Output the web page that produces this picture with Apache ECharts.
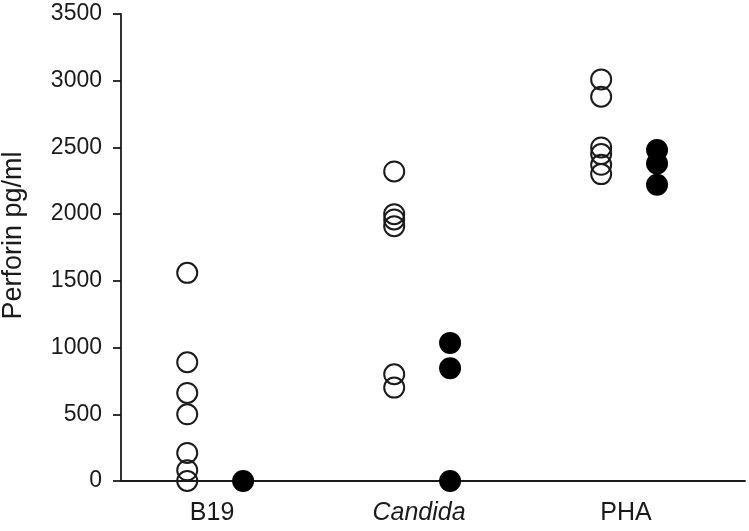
<!DOCTYPE html>
<html>
<head>
<meta charset="utf-8">
<script src="https://cdn.jsdelivr.net/npm/echarts@6/dist/echarts.min.js"></script>
<style>
  html, body { margin: 0; padding: 0; background: #fff; }
  #container { width: 749px; height: 531px; }
</style>
</head>
<body>
<div id="container"></div>
<script>
// groups on the x axis
var categories = ['B19', 'Candida', 'PHA'];
// open circles (left of each group)
var openB19 = [1560, 890, 660, 500, 210, 80, 0];
var openCandida = [2320, 2000, 1960, 1910, 800, 700];
var openPHA = [3010, 2880, 2500, 2450, 2370, 2300];
// filled circles (right of each group)
var filledB19 = [0];
var filledCandida = [1035, 845, 0];
var filledPHA = [2480, 2380, 2220];
var yTicks = [0, 500, 1000, 1500, 2000, 2500, 3000, 3500];

var openShift = -0.12;
var filledShift = 0.15;
var font = 'Liberation Sans, Arial, sans-serif';
var ink = '#1a1a1a';

function toPoints(groups, shift) {
  var pts = [];
  for (var i = 0; i < groups.length; i++) {
    for (var j = 0; j < groups[i].length; j++) {
      pts.push([i + 1 + shift, groups[i][j]]);
    }
  }
  return pts;
}

var dom = document.getElementById('container');
var myChart = echarts.init(dom);
var option = {
  animation: false,
  backgroundColor: '#fff',
  grid: { left: 121, right: 4, top: 14, bottom: 50, outerBoundsMode: 'none', containLabel: false },
  xAxis: {
    type: 'value',
    min: 0.56,
    max: 3.575,
    splitLine: { show: false },
    axisLine: { lineStyle: { color: ink, width: 1.8 } },
    axisTick: { show: false },
    axisLabel: {
      customValues: [1, 2, 3],
      margin: 20,
      fontSize: 25,
      fontFamily: font,
      color: ink,
      formatter: function (v) {
        var name = categories[Math.round(v) - 1];
        return name === 'Candida' ? '{it|' + name + '}' : name;
      },
      rich: {
        it: { fontStyle: 'italic', fontSize: 25, fontFamily: font, color: ink }
      }
    }
  },
  yAxis: {
    type: 'value',
    min: yTicks[0],
    max: yTicks[yTicks.length - 1],
    interval: 500,
    name: 'Perforin pg/ml',
    nameLocation: 'middle',
    nameGap: 94,
    nameTextStyle: { fontSize: 27, fontFamily: font, color: ink, padding: [0, 0, 0, 24] },
    splitLine: { show: false },
    axisLine: { show: true, lineStyle: { color: ink, width: 1.8 } },
    axisTick: { show: true, length: 8, lineStyle: { color: ink, width: 1.8 } },
    axisLabel: {
      margin: 19,
      fontSize: 23,
      fontFamily: font,
      color: ink,
      formatter: function (v) { return String(v); }
    }
  },
  series: [
    {
      name: 'open',
      type: 'scatter',
      symbol: 'circle',
      symbolSize: 20,
      itemStyle: { color: 'rgba(255,255,255,0)', borderColor: ink, borderWidth: 2, opacity: 1 },
      data: toPoints([openB19, openCandida, openPHA], openShift)
    },
    {
      name: 'filled',
      type: 'scatter',
      symbol: 'circle',
      symbolSize: 22,
      itemStyle: { color: '#000', opacity: 1 },
      data: toPoints([filledB19, filledCandida, filledPHA], filledShift)
    }
  ]
};
myChart.setOption(option);
</script>
</body>
</html>
